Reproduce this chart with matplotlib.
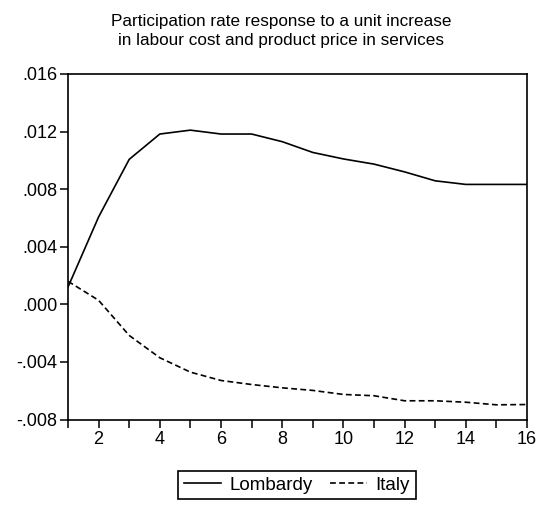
import matplotlib
matplotlib.use("Agg")
import matplotlib.pyplot as plt
from matplotlib.ticker import FuncFormatter, MultipleLocator

plt.rcParams['font.family'] = ['Liberation Sans', 'DejaVu Sans']

periods = list(range(1, 17))
lombardy = [0.0012, 0.00607, 0.01007, 0.01183, 0.0121, 0.01183, 0.01183, 0.0113,
            0.01055, 0.0101, 0.00974, 0.0092, 0.00858, 0.00833, 0.00833, 0.00833]
italy = [0.0016, 0.00028, -0.00216, -0.00371, -0.00471, -0.00529, -0.00557, -0.0058,
         -0.00598, -0.00626, -0.00635, -0.0067, -0.0067, -0.0068, -0.00698, -0.00696]
series_names = ["Lombardy", "Italy"]
title = "Participation rate response to a unit increase\nin labour cost and product price in services"
y_ticks = [-0.008, -0.004, 0.000, 0.004, 0.008, 0.012, 0.016]

fig = plt.figure(figsize=(5.5, 5.07), dpi=100)
ax = fig.add_axes([68/550, 1-419.5/507, (527-68)/550, (419.5-74)/507])

l1, = ax.plot(periods, lombardy, color='black', lw=1.2, linestyle='-')
l2, = ax.plot(periods, italy, color='black', lw=1.2, linestyle=(0, (3.5, 2)))

ax.set_xlim(1, 16)
ax.set_ylim(-0.008, 0.016)
ax.set_yticks(y_ticks)

def fmt(v, pos):
    s = "%.3f" % v
    if s.startswith("0."):
        s = s[1:]
    elif s.startswith("-0."):
        s = "-" + s[2:]
    if s == "-.000":
        s = ".000"
    return s

ax.yaxis.set_major_formatter(FuncFormatter(fmt))
ax.xaxis.set_major_locator(MultipleLocator(2))
ax.xaxis.set_minor_locator(MultipleLocator(1))
ax.tick_params(axis='both', which='both', direction='out', length=5.5, width=1.1,
               labelsize=13, colors='black')
ax.tick_params(axis='x', which='major', pad=3)
ax.tick_params(axis='y', pad=2)
for sp in ax.spines.values():
    sp.set_linewidth(1.2)

fig.text(281/550, 1-31/507, title, ha='center', va='center', fontsize=12.3,
         linespacing=1.3)

leg = fig.legend([l1, l2], series_names, loc='center', ncol=2,
                 bbox_to_anchor=(296.7/550, 1-485/507), fontsize=13.5,
                 frameon=True, fancybox=False, edgecolor='black', framealpha=1,
                 handlelength=2.0, columnspacing=0.9, handletextpad=0.45,
                 borderpad=0.3, borderaxespad=0)
leg.get_frame().set_linewidth(1.2)

fig.savefig("out.png", dpi=100)
